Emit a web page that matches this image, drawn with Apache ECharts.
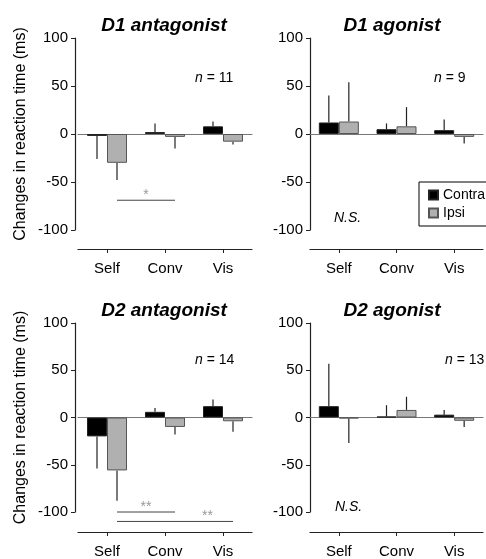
<!DOCTYPE html>
<html>
<head>
<meta charset="utf-8">
<title>Reaction time changes</title>
<script src="https://cdn.jsdelivr.net/npm/echarts@6/dist/echarts.min.js"></script>
<style>
    html, body { margin: 0; padding: 0; background: #fff; }
    #chart { width: 486px; height: 559px; }
</style>
</head>
<body>
<div id="chart"></div>
<script>
    // 数据
    var categories = ['Self', 'Conv', 'Vis'];
    var panelTitles = ['D1 antagonist', 'D1 agonist', 'D2 antagonist', 'D2 agonist'];
    var panelN = [11, 9, 14, 13];

    var d1AntContra = [-2, 2, 8];
    var d1AntContraSE = [24, 9, 5];
    var d1AntIpsi = [-30, -3, -8];
    var d1AntIpsiSE = [18, 12, 3];

    var d1AgoContra = [12, 5, 4];
    var d1AgoContraSE = [28, 6, 11];
    var d1AgoIpsi = [13, 8, -3];
    var d1AgoIpsiSE = [41, 20, 7];

    var d2AntContra = [-20, 6, 12];
    var d2AntContraSE = [34, 4, 7];
    var d2AntIpsi = [-56, -10, -4];
    var d2AntIpsiSE = [32, 8, 11];

    var d2AgoContra = [12, 1, 3];
    var d2AgoContraSE = [45, 12, 5];
    var d2AgoIpsi = [-1, 8, -3.5];
    var d2AgoIpsiSE = [26, 14, 6.5];

    // 显著性标记: 从哪个类别的 Ipsi 到哪个类别的 Ipsi
    var d1AntSig = [{ from: 0, to: 1, y: -69, at: 0.5, text: '*' }];
    var d2AntSig = [
        { from: 0, to: 1, y: -100, at: 0.5, text: '**' },
        { from: 0, to: 2, y: -110, at: 0.78, text: '**' }
    ];

    var panels = [
        { contra: d1AntContra, contraSE: d1AntContraSE, ipsi: d1AntIpsi, ipsiSE: d1AntIpsiSE, sig: d1AntSig },
        { contra: d1AgoContra, contraSE: d1AgoContraSE, ipsi: d1AgoIpsi, ipsiSE: d1AgoIpsiSE, sig: [] },
        { contra: d2AntContra, contraSE: d2AntContraSE, ipsi: d2AntIpsi, ipsiSE: d2AntIpsiSE, sig: d2AntSig },
        { contra: d2AgoContra, contraSE: d2AgoContraSE, ipsi: d2AgoIpsi, ipsiSE: d2AgoIpsiSE, sig: [] }
    ];

    var FONT = 'Liberation Sans, Arial, sans-serif';
    var BAR_W = 20;

    var grids = [
        { left: 78, top: 38, width: 174, height: 192, bottomGap: 19, yOffset: 3, titleX: 164, nX: 195, nY: 78 },
        { left: 310, top: 38, width: 173, height: 192, bottomGap: 19, yOffset: 0, titleX: 392, nX: 434, nY: 78, ns: [334, 218] },
        { left: 78, top: 323, width: 174, height: 193, bottomGap: 20, yOffset: 3, titleX: 164, nX: 195, nY: 360 },
        { left: 310, top: 323, width: 173, height: 193, bottomGap: 20, yOffset: 0, titleX: 392, nX: 445, nY: 360, ns: [335, 507] }
    ];

    function errData(means, se) {
        return means.map(function (m, i) {
            var end = m < 0 ? m - se[i] : m + se[i];
            return [i, m, end];
        });
    }

    function errSeries(name, data, idx, shift) {
        return {
            name: name + ' SE',
            type: 'custom',
            xAxisIndex: idx * 2,
            yAxisIndex: idx,
            data: data,
            encode: { x: 0, y: [1, 2] },
            z: 1,
            silent: true,
            renderItem: function (params, api) {
                var p0 = api.coord([api.value(0), api.value(1)]);
                var p1 = api.coord([api.value(0), api.value(2)]);
                return {
                    type: 'line',
                    shape: { x1: p0[0] + shift, y1: p0[1], x2: p1[0] + shift, y2: p1[1] },
                    style: { stroke: '#222', lineWidth: 1.2 }
                };
            }
        };
    }

    function sigSeries(sig, idx) {
        return {
            type: 'custom',
            xAxisIndex: idx * 2,
            yAxisIndex: idx,
            data: sig.map(function (s) { return [s.from, s.to, s.y, s.at]; }),
            encode: { x: [0, 1], y: 2 },
            silent: true,
            renderItem: function (params, api) {
                var s = sig[params.dataIndex];
                var a = api.coord([api.value(0), api.value(2)]);
                var b = api.coord([api.value(1), api.value(2)]);
                var x1 = a[0] + BAR_W / 2, x2 = b[0] + BAR_W / 2;
                var tx = x1 + (x2 - x1) * api.value(3);
                return {
                    type: 'group',
                    children: [
                        { type: 'line', shape: { x1: x1, y1: a[1], x2: x2, y2: a[1] },
                          style: { stroke: '#444', lineWidth: 1 } },
                        { type: 'text', x: tx, y: a[1] + 2,
                          style: { text: s.text, fill: '#999', font: '14px ' + FONT,
                                   align: 'center', verticalAlign: 'bottom' } }
                    ]
                };
            }
        };
    }

    var gridOpt = [], xAxes = [], yAxes = [], series = [], titles = [], graphics = [];

    grids.forEach(function (g, i) {
        var p = panels[i];
        gridOpt.push({ left: g.left, top: g.top, width: g.width, height: g.height });

        // 零线
        xAxes.push({
            type: 'category', gridIndex: i, data: categories,
            axisLine: { onZero: true, lineStyle: { color: '#777', width: 1.2 } },
            axisTick: { show: false }, axisLabel: { show: false }
        });
        // 底部类别轴
        xAxes.push({
            type: 'category', gridIndex: i, data: categories, position: 'bottom',
            offset: g.bottomGap,
            axisLine: { onZero: false, lineStyle: { color: '#222', width: 1.2 } },
            axisTick: { show: true, alignWithLabel: true, length: 4, lineStyle: { color: '#222' } },
            axisLabel: { color: '#000', fontSize: 15, fontFamily: FONT, margin: 12 }
        });

        var y = {
            type: 'value', gridIndex: i, min: -100, max: 100, interval: 50,
            offset: g.yOffset,
            axisLine: { show: true, lineStyle: { color: '#222', width: 1.2 } },
            axisTick: { show: true, length: 4, lineStyle: { color: '#222' } },
            axisLabel: { color: '#000', fontSize: 15, fontFamily: FONT, margin: 7 },
            splitLine: { show: false }
        };
        if (i % 2 === 0) {
            y.name = 'Changes in reaction time (ms)';
            y.nameLocation = 'middle';
            y.nameGap = 46;
            y.nameTextStyle = { color: '#000', fontSize: 16, fontFamily: FONT };
        }
        yAxes.push(y);

        series.push({
            name: 'Contra', type: 'bar', xAxisIndex: i * 2, yAxisIndex: i,
            data: p.contra, barWidth: BAR_W, barGap: '0%', z: 2,
            itemStyle: { color: '#000', borderColor: '#222', borderWidth: 1 }
        });
        series.push({
            name: 'Ipsi', type: 'bar', xAxisIndex: i * 2, yAxisIndex: i,
            data: p.ipsi, barWidth: BAR_W, barGap: '0%', z: 2,
            itemStyle: { color: '#b0b0b0', borderColor: '#555', borderWidth: 1 }
        });
        series.push(errSeries('Contra', errData(p.contra, p.contraSE), i, -BAR_W / 2));
        series.push(errSeries('Ipsi', errData(p.ipsi, p.ipsiSE), i, BAR_W / 2));
        if (p.sig.length) series.push(sigSeries(p.sig, i));

        titles.push({
            text: panelTitles[i], left: g.titleX, top: g.top - 22, textAlign: 'center', padding: 0,
            textStyle: { fontSize: 19, fontWeight: 'bold', fontStyle: 'italic', color: '#000', fontFamily: FONT }
        });

        graphics.push({
            type: 'text', x: g.nX, y: g.nY,
            style: {
                text: '{i|n} = ' + panelN[i], verticalAlign: 'middle',
                font: '14px ' + FONT, fill: '#000',
                rich: { i: { fontStyle: 'italic', fontSize: 14, fontFamily: FONT } }
            }
        });
        if (g.ns) {
            graphics.push({
                type: 'text', x: g.ns[0], y: g.ns[1],
                style: { text: 'N.S.', verticalAlign: 'middle', font: 'italic 14px ' + FONT, fill: '#000' }
            });
        }
    });

    var chart = echarts.init(document.getElementById('chart'));
    chart.setOption({
        animation: false,
        title: titles,
        grid: gridOpt,
        xAxis: xAxes,
        yAxis: yAxes,
        legend: {
            data: ['Contra', 'Ipsi'],
            icon: 'rect',
            orient: 'vertical', left: 419, top: 182,
            itemWidth: 9, itemHeight: 9, itemGap: 4,
            padding: [6, 10, 6, 9],
            borderColor: '#000', borderWidth: 1,
            textStyle: { fontSize: 14, color: '#000', fontFamily: FONT },
            selectedMode: false
        },
        graphic: graphics,
        series: series
    });
</script>
</body>
</html>
